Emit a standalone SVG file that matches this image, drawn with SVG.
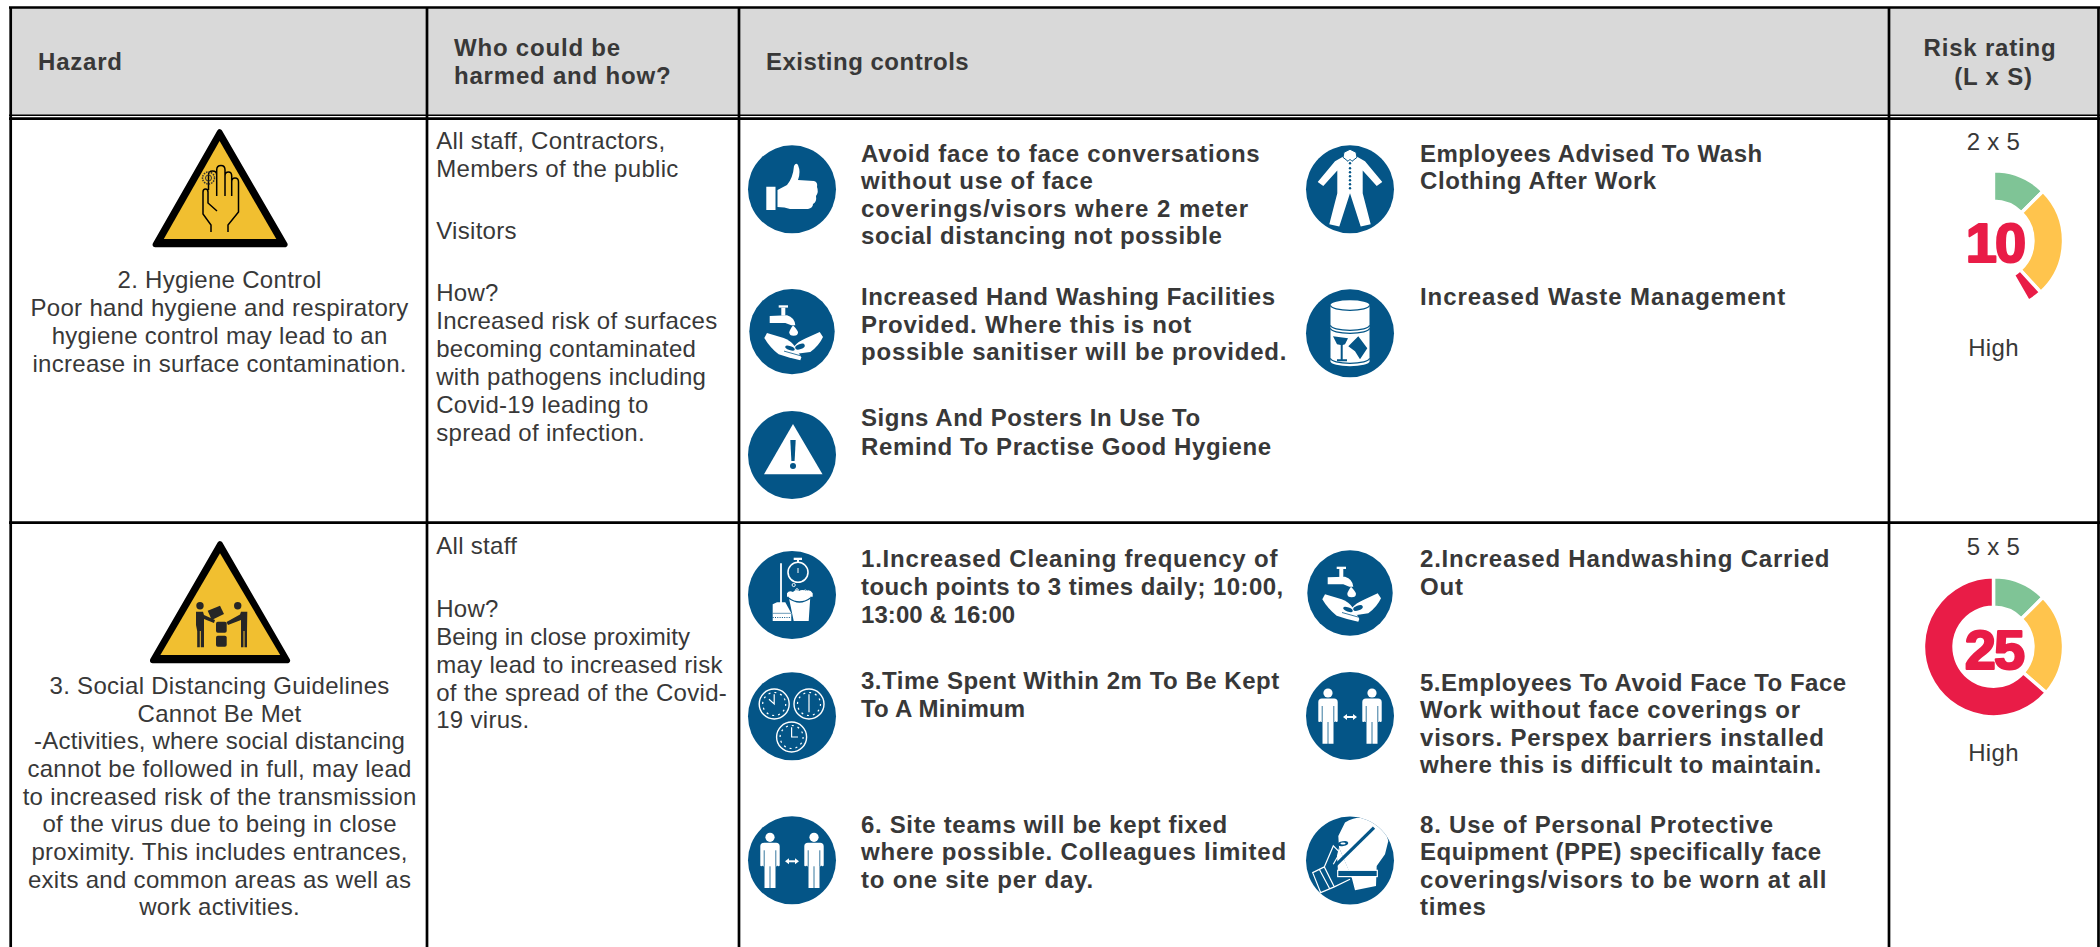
<svg xmlns="http://www.w3.org/2000/svg" xmlns:xlink="http://www.w3.org/1999/xlink" width="2100" height="947" viewBox="0 0 2100 947">
<style>
text{font-family:"Liberation Sans",Arial,sans-serif;fill:#383838}
.b,.h{font-size:24px;font-weight:700;letter-spacing:.8px}
.t{font-size:24px;letter-spacing:.3px}
.c{text-anchor:middle}
.ln{stroke:#000;stroke-width:2.7;fill:none}
.bc,.bl{fill:#045587}
.w{fill:#fff}
.seg{stroke:#fff;stroke-width:3.4}
.num{font-size:56px;font-weight:700;fill:#e91c47;stroke:#e91c47;stroke-width:2.2;stroke-linejoin:round;text-anchor:middle;letter-spacing:-2px}
.wl{stroke:#fff;fill:none}
.bs{stroke:#045587;fill:none}
</style>
<defs>
<clipPath id="cc"><circle r="44"/></clipPath>
<g id="wash">
<path class="w" d="M-22.300-15.700 -5-16.300Q2.700-14 3.300-6.300H-.7L-6.700-8.700H-22.300Z"/>
<rect class="w" x="-10.700" y="-24" width="4" height="8"/><rect class="w" x="-13.300" y="-26.300" width="9.300" height="2.300"/>
<path class="w" d="M1-6.300Q6-1 6 0.700A3.700 3 0 0 1-2.700 0.700Q-2.700-1 1-6.300Z"/>
<path class="w" d="M-25 1.300-8.300 6.300Q-1 9 3.300 15.300L9.300 26 8.300 28.700-3 26-13.300 22.700Q-22 16-27.700 6.300Z"/>
<path class="w" d="M27.700.3 13.300 7Q6 10 1.700 15.300L6.700 22 18.300 20.300Q27 14 31 5.300Z"/>
<ellipse class="bl" cx="-2" cy="16.500" rx="5" ry="2" transform="rotate(20 -2 16.500)"/><ellipse class="bl" cx="8" cy="15" rx="5" ry="2.500" transform="rotate(-20 8 15)"/>
<path class="bs" stroke-width=".8" d="M-8 19.500 8 24"/>
</g>
<g id="man"><circle class="w" cy="-23" r="4.600"/><path class="w" d="M-6-17.500H6Q9.700-17.500 9.700-14V5Q9.700 6 8.500 6T7 5V6H5.500V27.700H-5.500V6H-7V5Q-7 6-8.500 6T-9.700 5V-14Q-9.700-17.500-6-17.500Z"/><path class="bs" stroke-width=".8" d="M-5.800-10V6M5.800-10V6M0 6V28"/></g>
<g id="pair">
<use xlink:href="#man" href="#man" x="-22"/><use xlink:href="#man" href="#man" x="22"/>
<path class="wl" stroke-width="2" d="M-4 1H4"/><path class="w" d="M-7 1-3-2V4ZM7 1 3-2V4Z"/>
</g>
<g id="clk">
<circle class="wl" r="15" stroke-width="1.400"/>
<circle class="wl" r="11.500" stroke-width="1.200" stroke-dasharray="2 4"/>
</g>
</defs>

<g id="header">
<rect x="11" y="7" width="2087" height="109" fill="#d9d9d9"/>
<text class="h" x="38" y="70">Hazard</text>
<text class="h" x="454" y="55.700">Who could be</text>
<text class="h" x="454" y="83.500">harmed and how?</text>
<text class="h" x="766" y="70" textLength="203.500">Existing controls</text>
<text class="h c" x="1990" y="56">Risk rating</text>
<text class="h c" x="1993.500" y="84.500">(L x S)</text>
</g>

<g id="grid">
<path class="ln" d="M10.700 8V947M427 8V947M739 8V947M1889 8V947M2098.500 8V947M9 7.500H2100M9 118.700H2100M9 522.700H2100"/>
<path d="M9 115.300H2100" stroke="#000" stroke-width="1.600"/>
</g>

<g id="hazard-2">
<path d="M219.600 132 284.800 244.500H155.300Z" fill="#000" stroke="#000" stroke-width="5.500" stroke-linejoin="round"/>
<path d="M219.600 141 276.300 239H163.800Z" fill="#f1bf30"/>
<path d="M211 232V225L203 214V192Q203 189 205.500 189Q208 189 208 192V203L217 211M208.500 190V175Q208.500 171 212.500 171Q216.700 171 216.700 175V196M216.700 175V170Q216.700 165.500 221 165.500Q225 165.500 225 170V196M225 176Q225 172 228.500 172Q231.700 172 231.700 176V196M231.700 182Q231.700 178 235 178Q238.500 178 238.500 182V212L228 225V232" fill="none" stroke="#000" stroke-width="1.500"/>
<circle cx="208.500" cy="178" r="6" fill="none" stroke="#333" stroke-width="1.500" stroke-dasharray="1.500 1"/><circle cx="208.500" cy="178" r="3" fill="none" stroke="#333"/>
<text class="t c" x="219.600" y="287.800">2. Hygiene Control</text>
<text class="t c" x="219.600" y="316">Poor hand hygiene and respiratory</text>
<text class="t c" x="219.600" y="344">hygiene control may lead to an</text>
<text class="t c" x="219.600" y="371.600">increase in surface contamination.</text>
</g>

<g id="who-2">
<text class="t" x="436.200" y="149">All staff, Contractors,</text>
<text class="t" x="436.200" y="176.700">Members of the public</text>
<text class="t" x="436.200" y="239">Visitors</text>
<text class="t" x="436.200" y="301">How?</text>
<text class="t" x="436.200" y="329.400">Increased risk of surfaces</text>
<text class="t" x="436.200" y="357.400" textLength="260">becoming contaminated</text>
<text class="t" x="436.200" y="385">with pathogens including</text>
<text class="t" x="436.200" y="413">Covid-19 leading to</text>
<text class="t" x="436.200" y="440.500">spread of infection.</text>
</g>

<g id="ctl-avoid">
<circle class="bc" cx="792" cy="189.300" r="44"/>
<path class="w" d="M766.300 186.700H775.500V210H766.300ZM777.500 190 787 185Q793 178 794 166Q796 162 798 165Q801 172 798 180L814 181Q818 182 817 187Q819 192 816 196Q817 202 813 204Q813 208 808 209L790 209Q785 207 777.500 207Z"/>
<text class="b" x="861" y="161.700">Avoid face to face conversations</text>
<text class="b" x="861" y="189">without use of face</text>
<text class="b" x="861" y="216.700" textLength="388">coverings/visors where 2 meter</text>
<text class="b" x="861" y="244.300" textLength="361.600">social distancing not possible</text>
</g>
<g id="ctl-handwash">
<circle class="bc" cx="792" cy="331.600" r="42.700"/>
<use xlink:href="#wash" href="#wash" x="792" y="331.600"/>
<text class="b" x="861" y="305.300" textLength="415">Increased Hand Washing Facilities</text>
<text class="b" x="861" y="332.700">Provided. Where this is not</text>
<text class="b" x="861" y="360">possible sanitiser will be provided.</text>
</g>
<g id="ctl-signs">
<circle class="bc" cx="792" cy="455" r="44"/>
<path class="w" d="M793 424 822.500 474.300H764Z"/>
<path class="bl" d="M790.300 440H795.700L794.600 461H791.400Z"/><circle class="bl" cx="793" cy="466" r="3"/>
<text class="b" x="861" y="426" textLength="340">Signs And Posters In Use To</text>
<text class="b" x="861" y="454.700" textLength="411">Remind To Practise Good Hygiene</text>
</g>
<g id="ctl-clothing">
<circle class="bc" cx="1350" cy="189.300" r="44"/>
<g transform="translate(1350 189.300)">
<path class="w" d="M-6.700-32.700-15-28-32.300-7.300-26.700-3.300-12.700-18.700V4L-20.700 35-10.700 37.300 0 4 10.700 37.300 20.700 35 12.700 4V-18.700L26.700-3.300 32.300-7.300 15-28 6.700-32.700Z"/>
<path class="w" stroke="#045587" stroke-width="1" d="M-6-37 0-40 6-37 7-32 2-28 0-30-2-28-7-32Z"/>
<circle class="bl" cy="-26" r="1.200"/><circle class="bl" cy="-21" r="1.200"/><circle class="bl" cy="-17" r="1.200"/><circle class="bl" cy="-13" r="1.200"/><circle class="bl" cy="-9" r="1.200"/><circle class="bl" cy="-5" r="1.200"/><circle class="bl" cy="-1" r="1.200"/>
</g>
<text class="b" x="1420" y="161.700" textLength="343">Employees Advised To Wash</text>
<text class="b" x="1420" y="189" textLength="237">Clothing After Work</text>
</g>
<g id="ctl-waste">
<circle class="bc" cx="1350" cy="333.300" r="44"/>
<g transform="translate(1350 333.300)">
<path class="w" d="M-19.500-28A19.500 5 0 0 1 19.500-28V28A19.500 5 0 0 1-19.500 28Z"/>
<path class="bs" stroke-width="1.200" d="M-19.500-28A19.500 5 0 0 0 19.500-28M-19.500-8A19.500 5 0 0 0 19.500-8M-19.500-5A19.500 5 0 0 0 19.500-5M-19.500 25A19.500 5 0 0 0 19.500 25"/>
<path class="bl" d="M-17 3-2 5-5 11-8 12-13 11ZM-1.700 13 8.300 3 17.300 15 10 26 5 18Z"/>
<path class="bs" stroke-width="2" d="M-8.300 10V27M-13 27H-3"/>
</g>
<text class="b" x="1420" y="305.300" textLength="366">Increased Waste Management</text>
</g>

<g id="risk-2">
<text class="t c" x="1993.500" y="150">2 x 5</text>
<g transform="translate(1993.500 240.700)">
<path class="seg" fill="#7fc496" d="M0-70A70 70 0 0 1 49.500-49.500L27.930-27.930A39.500 39.500 0 0 0 0-39.500Z"/>
<path class="seg" fill="#ffc44d" d="M49.500-49.500A70 70 0 0 1 47.290 51.610L26.690 29.120A39.500 39.500 0 0 0 27.930-27.930Z"/>
<path class="seg" fill="#e91c47" d="M47.290 51.610A70 70 0 0 1 35 60.620L19.750 34.210A39.500 39.500 0 0 0 26.690 29.120Z"/>
</g>
<text class="num" x="1995" y="261.700">10</text>
<text class="t c" x="1993.500" y="356">High</text>
</g>

<g id="hazard-3">
<path d="M220 544 287.300 660.500H152.700Z" fill="#000" stroke="#000" stroke-width="5.500" stroke-linejoin="round"/>
<path d="M220 553.300 280.200 655H160.400Z" fill="#f1bf30"/>
<g fill="#262626">
<circle cx="200" cy="605.700" r="3.700"/><circle cx="237.700" cy="605.700" r="3.700"/>
<path d="M196 611.700H203L204 615 215 620 214 623 204 619V647.300H200.800V631H199.800V647.300H197.200V631L196 625Z"/>
<path d="M247.300 611.700H241L240 614.500 226.500 622 228 625 241 620V647.300H243.500V631H244.500V647.300H247V631Z"/>
<rect x="216" y="621.700" width="10.700" height="11" rx="1.800"/><rect x="216" y="635.700" width="10.700" height="11" rx="1.800"/>
<path d="M207.700 610.700 220 605.700 224 614 211.700 620Z"/>
</g>
<text class="t c" x="219.600" y="693.700">3. Social Distancing Guidelines</text>
<text class="t c" x="219.600" y="721.700">Cannot Be Met</text>
<text class="t c" x="219.600" y="748.700" textLength="371">-Activities, where social distancing</text>
<text class="t c" x="219.600" y="776.700">cannot be followed in full, may lead</text>
<text class="t c" x="219.600" y="804.700">to increased risk of the transmission</text>
<text class="t c" x="219.600" y="832.300">of the virus due to being in close</text>
<text class="t c" x="219.600" y="860">proximity. This includes entrances,</text>
<text class="t c" x="219.600" y="888">exits and common areas as well as</text>
<text class="t c" x="219.600" y="915.300">work activities.</text>
</g>

<g id="who-3">
<text class="t" x="436.200" y="554.300">All staff</text>
<text class="t" x="436.200" y="617.300">How?</text>
<text class="t" x="436.200" y="645" textLength="254">Being in close proximity</text>
<text class="t" x="436.200" y="672.700">may lead to increased risk</text>
<text class="t" x="436.200" y="700.700">of the spread of the Covid-</text>
<text class="t" x="436.200" y="728.300">19 virus.</text>
</g>

<g id="ctl-cleaning">
<circle class="bc" cx="792" cy="595" r="44"/>
<g transform="translate(792 595)">
<circle class="wl" cx="6" cy="-22.700" r="10" stroke-width="1.600"/><rect class="w" x="1.700" y="-37.300" width="8.300" height="2.300"/><rect class="w" x="5" y="-35" width="2" height="3"/>
<path class="wl" stroke-width="1" d="M6-27V-22"/>
<path class="wl" stroke-width="1.800" d="M-11-31.700V8"/>
<path class="w" d="M-19.300 9.300-15 7.300H-6.700L-.7 18.300V26H-19.300Z"/>
<path class="bs" stroke-width="1" stroke-dasharray="1 1.300" d="M-19.300 22.500H-.7"/>
<path class="bs" stroke-width=".6" d="M-19.300 18.300H-.7"/>
<path class="w" d="M-3.300 1.700H18.300L16.700 26H1.700ZM-5-1.700Q-3-5 1-3 3-6 7-4 10-6 14-4 18-6 20.700-1.700V1.700H-5Z"/>
<path class="bs" stroke-width="1.300" d="M-3.500 3Q7.500 11 18.500 3"/>
<circle class="wl" cx="1.700" cy="-10" r="1.600" stroke-width=".9"/><circle class="wl" cx="5" cy="-5" r="1.300" stroke-width=".9"/><circle class="wl" cx="13.300" cy="-3.500" r="1.500" stroke-width=".9"/>
</g>
<text class="b" x="861" y="566.700">1.Increased Cleaning frequency of</text>
<text class="b" x="861" y="595" textLength="423">touch points to 3 times daily; 10:00,</text>
<text class="b" x="861" y="622.700" textLength="155">13:00 &amp; 16:00</text>
</g>
<g id="ctl-handwash-2">
<circle class="bc" cx="1350" cy="593" r="42.700"/>
<use xlink:href="#wash" href="#wash" x="1350" y="593"/>
<text class="b" x="1420" y="566.700">2.Increased Handwashing Carried</text>
<text class="b" x="1420" y="595">Out</text>
</g>
<g id="ctl-time">
<circle class="bc" cx="792" cy="716.300" r="44"/>
<g transform="translate(792 716.300)">
<use xlink:href="#clk" href="#clk" x="-17.800" y="-12.300"/><use xlink:href="#clk" href="#clk" x="17" y="-12.300"/><use xlink:href="#clk" href="#clk" x="-.4" y="20.700"/>
<path class="wl" stroke-width="1.200" d="M-17.800-22V-12.300L-23-17M17-22V-4M-.4 11V20.700H6"/>
</g>
<text class="b" x="861" y="688.700" textLength="419">3.Time Spent Within 2m To Be Kept</text>
<text class="b" x="861" y="716.700" textLength="165">To A Minimum</text>
</g>
<g id="ctl-avoid-work">
<circle class="bc" cx="1350" cy="716" r="44"/>
<use xlink:href="#pair" href="#pair" x="1350" y="716"/>
<text class="b" x="1420" y="691" textLength="427">5.Employees To Avoid Face To Face</text>
<text class="b" x="1420" y="718">Work without face coverings or</text>
<text class="b" x="1420" y="745.500">visors. Perspex barriers installed</text>
<text class="b" x="1420" y="772.500" textLength="402">where this is difficult to maintain.</text>
</g>
<g id="ctl-teams">
<circle class="bc" cx="792" cy="860.300" r="44"/>
<use xlink:href="#pair" href="#pair" x="792" y="860.300"/>
<text class="b" x="861" y="832.700" textLength="367">6. Site teams will be kept fixed</text>
<text class="b" x="861" y="860">where possible. Colleagues limited</text>
<text class="b" x="861" y="887.700">to one site per day.</text>
</g>
<g id="ctl-ppe">
<circle class="bc" cx="1350" cy="860.600" r="44"/>
<g transform="translate(1350 860.600)" clip-path="url(#cc)">
<path class="w" d="M-11.700-24.700-5-38Q3-43 11.700-43L28.300-38Q36-30 38.300-19.700L35-6.300 26.700 5.300 26 25.300 5 29.700 1.700 17-11-13Z"/>
<path class="w" d="M-11-13-13-5-12 12 2 17Z"/>
<path class="bs" stroke-width="3.200" d="M-15 5.300 24-33"/>
<ellipse class="bl" cx="-7" cy="-17" rx="5.300" ry="2.400" transform="rotate(-10 -7 -17)"/>
<ellipse class="w" cx="-7" cy="-17" rx="2.600" ry="1"/>
<rect class="bl" x="-12.300" y="9.700" width="39.600" height="6.300" stroke="#fff" stroke-width="1.200"/>
<path class="wl" stroke-width="1.200" d="M-37.300 12-25.700 6.300-15.700 26.300-29.300 32ZM-30.700 8.700-20 28.700M-25.700 6.300-16.700-14.700-10-8-16.700 3.700M-15.700 26.300 0 18.700"/>
</g>
<text class="b" x="1420" y="832.700">8. Use of Personal Protective</text>
<text class="b" x="1420" y="860" textLength="402">Equipment (PPE) specifically face</text>
<text class="b" x="1420" y="888">coverings/visors to be worn at all</text>
<text class="b" x="1420" y="915">times</text>
</g>

<g id="risk-3">
<text class="t c" x="1993.500" y="555">5 x 5</text>
<g transform="translate(1993.500 646.800)">
<path class="seg" fill="#7fc496" d="M0-70A70 70 0 0 1 49.500-49.500L27.930-27.930A39.500 39.500 0 0 0 0-39.500Z"/>
<path class="seg" fill="#ffc44d" d="M49.500-49.500A70 70 0 0 1 52.830 45.930L29.810 25.920A39.500 39.500 0 0 0 27.930-27.930Z"/>
<path class="seg" fill="#e91c47" d="M52.830 45.930A70 70 0 1 1 0-70L0-39.500A39.500 39.500 0 1 0 29.810 25.920Z"/>
</g>
<text class="num" x="1994" y="669">25</text>
<text class="t c" x="1993.500" y="761">High</text>
</g>
</svg>
